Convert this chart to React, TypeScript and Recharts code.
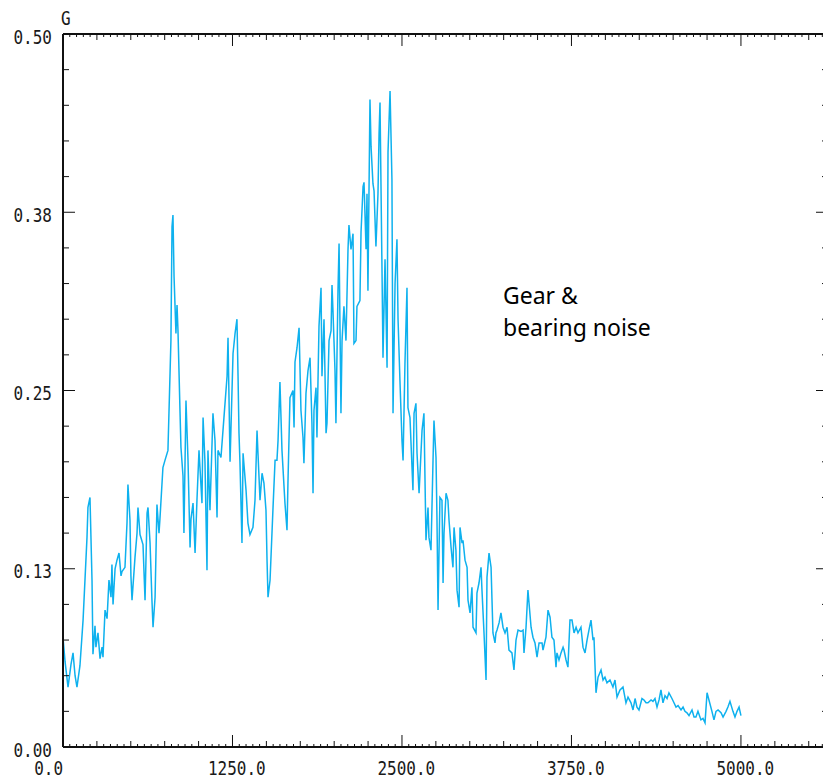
import React from 'react';
import { LineChart, Line, XAxis, YAxis } from 'recharts';

// Frequency (Hz) and amplitude (G)
const FREQ_HZ = [
  0, 15, 37, 59, 74, 89, 103, 125, 148, 162, 177, 184, 199, 214, 221, 236, 243, 258, 273, 288,
  295, 310, 325, 339, 354, 361, 369, 384, 398, 413, 428, 435, 457, 472, 479, 494, 501, 509, 531, 546,
  553, 568, 590, 605, 620, 627, 642, 656, 664, 679, 693, 708, 715, 737, 752, 774, 796, 804, 811, 819,
  833, 841, 848, 863, 870, 885, 892, 907, 922, 937, 944, 959, 974, 988, 1003, 1025, 1033, 1047, 1062, 1069,
  1084, 1106, 1121, 1136, 1143, 1165, 1180, 1187, 1210, 1217, 1232, 1254, 1269, 1283, 1291, 1298, 1305, 1320, 1328, 1350,
  1364, 1379, 1401, 1416, 1431, 1438, 1453, 1468, 1482, 1497, 1505, 1512, 1527, 1549, 1564, 1578, 1586, 1600, 1615, 1637,
  1652, 1659, 1674, 1696, 1704, 1711, 1726, 1741, 1755, 1770, 1777, 1792, 1807, 1822, 1836, 1844, 1851, 1866, 1873, 1888,
  1903, 1910, 1925, 1940, 1947, 1962, 1977, 1984, 1991, 2006, 2013, 2028, 2036, 2050, 2058, 2072, 2087, 2102, 2109, 2124,
  2139, 2146, 2161, 2168, 2190, 2198, 2213, 2220, 2235, 2242, 2249, 2264, 2272, 2286, 2294, 2308, 2323, 2331, 2338, 2353,
  2360, 2375, 2390, 2397, 2412, 2426, 2434, 2449, 2463, 2471, 2485, 2500, 2508, 2522, 2537, 2544, 2559, 2574, 2581, 2589,
  2603, 2611, 2626, 2648, 2662, 2677, 2692, 2699, 2714, 2729, 2736, 2751, 2758, 2766, 2780, 2795, 2803, 2810, 2825, 2839,
  2847, 2862, 2876, 2884, 2898, 2906, 2921, 2928, 2943, 2950, 2965, 2980, 2987, 3002, 3016, 3024, 3046, 3053, 3068, 3083,
  3090, 3105, 3120, 3127, 3142, 3157, 3164, 3171, 3186, 3193, 3201, 3216, 3230, 3245, 3260, 3275, 3289, 3311, 3326, 3341,
  3356, 3378, 3393, 3400, 3415, 3429, 3437, 3452, 3466, 3481, 3496, 3511, 3533, 3540, 3562, 3577, 3592, 3606, 3621, 3636,
  3643, 3658, 3673, 3688, 3695, 3710, 3724, 3739, 3754, 3769, 3784, 3798, 3820, 3835, 3850, 3865, 3879, 3894, 3909, 3916,
  3931, 3946, 3968, 3983, 3997, 4012, 4034, 4056, 4071, 4086, 4108, 4130, 4152, 4167, 4189, 4204, 4219, 4233, 4248, 4270,
  4285, 4300, 4314, 4337, 4351, 4366, 4381, 4396, 4410, 4425, 4440, 4455, 4469, 4491, 4506, 4521, 4536, 4558, 4573, 4587,
  4602, 4617, 4639, 4654, 4668, 4683, 4705, 4720, 4735, 4750, 4764, 4786, 4801, 4816, 4831, 4853, 4868, 4890, 4904, 4919,
  4941, 4956, 4971, 4986, 5000,
];

const AMPLITUDE_G = [
  0.077, 0.06, 0.042, 0.058, 0.066, 0.05, 0.042, 0.057, 0.089, 0.117, 0.147, 0.168, 0.175, 0.117, 0.065, 0.085, 0.07, 0.08, 0.062, 0.07,
  0.063, 0.096, 0.09, 0.117, 0.105, 0.128, 0.1, 0.125, 0.131, 0.136, 0.12, 0.123, 0.126, 0.157, 0.184, 0.159, 0.12, 0.103, 0.133, 0.15,
  0.168, 0.149, 0.142, 0.103, 0.164, 0.168, 0.143, 0.103, 0.084, 0.105, 0.17, 0.15, 0.16, 0.196, 0.201, 0.208, 0.285, 0.365, 0.373, 0.33,
  0.29, 0.31, 0.292, 0.235, 0.21, 0.19, 0.15, 0.243, 0.201, 0.14, 0.16, 0.171, 0.136, 0.173, 0.208, 0.171, 0.231, 0.2, 0.124, 0.208,
  0.166, 0.234, 0.215, 0.161, 0.208, 0.203, 0.222, 0.231, 0.26, 0.287, 0.2, 0.276, 0.29, 0.3, 0.26, 0.22, 0.2, 0.143, 0.206, 0.18,
  0.157, 0.149, 0.154, 0.173, 0.222, 0.206, 0.173, 0.192, 0.185, 0.166, 0.13, 0.105, 0.117, 0.168, 0.201, 0.201, 0.215, 0.256, 0.208, 0.171,
  0.152, 0.185, 0.245, 0.25, 0.224, 0.27, 0.28, 0.294, 0.236, 0.217, 0.199, 0.248, 0.264, 0.273, 0.227, 0.178, 0.236, 0.252, 0.217, 0.295,
  0.322, 0.26, 0.3, 0.22, 0.227, 0.285, 0.292, 0.324, 0.306, 0.264, 0.227, 0.32, 0.353, 0.234, 0.285, 0.309, 0.285, 0.349, 0.366, 0.349,
  0.36, 0.283, 0.285, 0.309, 0.313, 0.361, 0.393, 0.396, 0.349, 0.388, 0.32, 0.454, 0.421, 0.395, 0.39, 0.351, 0.388, 0.43, 0.452, 0.332,
  0.273, 0.342, 0.266, 0.417, 0.46, 0.398, 0.234, 0.325, 0.356, 0.3, 0.257, 0.215, 0.201, 0.269, 0.322, 0.238, 0.231, 0.196, 0.18, 0.234,
  0.241, 0.206, 0.178, 0.222, 0.234, 0.145, 0.168, 0.147, 0.138, 0.201, 0.229, 0.203, 0.161, 0.096, 0.175, 0.173, 0.115, 0.15, 0.178, 0.173,
  0.159, 0.14, 0.126, 0.154, 0.138, 0.11, 0.098, 0.154, 0.143, 0.145, 0.131, 0.126, 0.103, 0.094, 0.112, 0.084, 0.08, 0.108, 0.115, 0.126,
  0.11, 0.08, 0.047, 0.119, 0.136, 0.126, 0.103, 0.08, 0.073, 0.08, 0.082, 0.087, 0.094, 0.084, 0.08, 0.084, 0.068, 0.066, 0.054, 0.075,
  0.082, 0.081, 0.082, 0.066, 0.084, 0.11, 0.101, 0.084, 0.077, 0.073, 0.063, 0.073, 0.073, 0.068, 0.077, 0.096, 0.091, 0.077, 0.075, 0.056,
  0.066, 0.061, 0.066, 0.07, 0.068, 0.061, 0.056, 0.089, 0.089, 0.08, 0.084, 0.08, 0.084, 0.07, 0.066, 0.075, 0.082, 0.089, 0.075, 0.077,
  0.038, 0.049, 0.054, 0.047, 0.049, 0.045, 0.047, 0.042, 0.047, 0.035, 0.04, 0.042, 0.031, 0.035, 0.031, 0.026, 0.034, 0.028, 0.026, 0.034,
  0.033, 0.031, 0.031, 0.033, 0.032, 0.034, 0.028, 0.033, 0.04, 0.031, 0.036, 0.034, 0.038, 0.034, 0.031, 0.028, 0.029, 0.026, 0.028, 0.025,
  0.024, 0.022, 0.026, 0.021, 0.021, 0.025, 0.019, 0.02, 0.017, 0.038, 0.033, 0.025, 0.019, 0.025, 0.026, 0.024, 0.021, 0.025, 0.028, 0.032,
  0.025, 0.021, 0.025, 0.028, 0.022,
];

const X_LABELS = [0, 1250, 2500, 3750, 5000];
const Y_LABELS = [0, 0.125, 0.25, 0.375, 0.5];
const X_MAX = 5642;
const X_MINOR_STEP = 50;
const X_MID_STEP = 250;
const Y_MINOR_STEP = 0.025;
const UNIT_LABEL = 'G';
const ANNOTATION = ['Gear &', 'bearing noise'];

const data = FREQ_HZ.map((f, i) => ({ f, amp: AMPLITUDE_G[i] }));
const xTicks: number[] = [];
for (let v = 0; v <= X_MAX; v += X_MINOR_STEP) xTicks.push(v);
const yTicks: number[] = [];
for (let i = 0; i <= 20; i++) yTicks.push(Math.round(i * Y_MINOR_STEP * 1000) / 1000);

const MONO = '"DejaVu Sans Mono", monospace';
const AXIS_COLOR = '#111';
const LABEL_COLOR = '#1a1a1a';

const isMult = (v: number, step: number) => Math.abs(v / step - Math.round(v / step)) < 1e-6;

const xTickLen = (v: number) => (isMult(v, 1250) ? 12 : isMult(v, X_MID_STEP) ? 6 : 3);
const yTickLen = (v: number) => (isMult(v, 0.125) ? 12 : 6);

const TallText = ({ x, y, anchor, children }: any) => (
  <text
    transform={`translate(${x},${y}) scale(1,1.2)`}
    x={0}
    y={0}
    textAnchor={anchor}
    fontFamily={MONO}
    fontSize={16}
    fill={LABEL_COLOR}
  >
    {children}
  </text>
);

const BottomTick = (props: any) => {
  const { x, y, payload } = props;
  const v = payload.value;
  const len = xTickLen(v);
  const showLabel = X_LABELS.includes(v);
  return (
    <g>
      <line x1={x} x2={x} y1={y} y2={y - len} stroke={AXIS_COLOR} strokeWidth={1} />
      {showLabel && (
        <TallText x={v === 0 ? x : x - 24.5} y={y + 28} anchor={v === 0 ? 'end' : 'start'}>
          {v.toFixed(1)}
        </TallText>
      )}
    </g>
  );
};

const TopTick = (props: any) => {
  const { x, y, payload } = props;
  const len = xTickLen(payload.value);
  return <line x1={x} x2={x} y1={y} y2={y + len} stroke={AXIS_COLOR} strokeWidth={1} />;
};

const LeftTick = (props: any) => {
  const { x, y, payload } = props;
  const v = payload.value;
  const len = yTickLen(v);
  const major = Y_LABELS.some((l) => Math.abs(l - v) < 1e-6);
  return (
    <g>
      <line x1={x} x2={x + len} y1={y} y2={y} stroke={AXIS_COLOR} strokeWidth={1} />
      {major && (
        <TallText x={x - 11} y={y + 9.5} anchor="end">
          {v.toFixed(2)}
        </TallText>
      )}
      {Math.abs(v - 0.5) < 1e-6 && (
        <TallText x={x - 2} y={y - 9} anchor="start">
          {UNIT_LABEL}
        </TallText>
      )}
    </g>
  );
};

const RightTick = (props: any) => {
  const { x, y, payload } = props;
  const len = yTickLen(payload.value);
  return <line x1={x} x2={x - len} y1={y} y2={y} stroke={AXIS_COLOR} strokeWidth={1} />;
};

const axisLine = { stroke: AXIS_COLOR, strokeWidth: 2 };

export default function App() {
  return (
    <div
      style={{
        position: 'absolute',
        left: 0,
        top: 0,
        width: 823,
        height: 782,
        overflow: 'hidden',
        background: '#fff',
      }}
    >
      <LineChart
        width={830}
        height={782}
        data={data}
        margin={{ top: 33, left: 62, right: 1, bottom: 34 }}
      >
        <XAxis
          xAxisId="bottom"
          dataKey="f"
          type="number"
          orientation="bottom"
          domain={[0, X_MAX]}
          ticks={xTicks}
          interval={0}
          height={1}
          tickSize={0}
          tickMargin={0}
          tickLine={false}
          axisLine={axisLine}
          tick={<BottomTick />}
          allowDataOverflow
        />
        <XAxis
          xAxisId="top"
          dataKey="f"
          type="number"
          orientation="top"
          domain={[0, X_MAX]}
          ticks={xTicks}
          interval={0}
          height={1}
          tickSize={0}
          tickMargin={0}
          tickLine={false}
          axisLine={axisLine}
          tick={<TopTick />}
          allowDataOverflow
        />
        <YAxis
          yAxisId="left"
          type="number"
          orientation="left"
          domain={[0, 0.5]}
          ticks={yTicks}
          interval={0}
          width={1}
          tickSize={0}
          tickMargin={0}
          tickLine={false}
          axisLine={axisLine}
          tick={<LeftTick />}
          allowDataOverflow
        />
        <YAxis
          yAxisId="right"
          type="number"
          orientation="right"
          domain={[0, 0.5]}
          ticks={yTicks}
          interval={0}
          width={1}
          tickSize={0}
          tickMargin={0}
          tickLine={false}
          axisLine={axisLine}
          tick={<RightTick />}
          allowDataOverflow
        />
        <Line
          xAxisId="bottom"
          yAxisId="left"
          type="linear"
          dataKey="amp"
          stroke="#0eb1ee"
          strokeWidth={1.5}
          dot={false}
          isAnimationActive={false}
        />
      </LineChart>
      <div
        style={{
          position: 'absolute',
          left: 503,
          top: 279,
          fontFamily: '"Noto Sans", sans-serif',
          fontSize: 23,
          lineHeight: '32px',
          color: '#000',
          whiteSpace: 'nowrap',
        }}
      >
        {ANNOTATION.map((t) => (
          <div key={t}>{t}</div>
        ))}
      </div>
    </div>
  );
}
